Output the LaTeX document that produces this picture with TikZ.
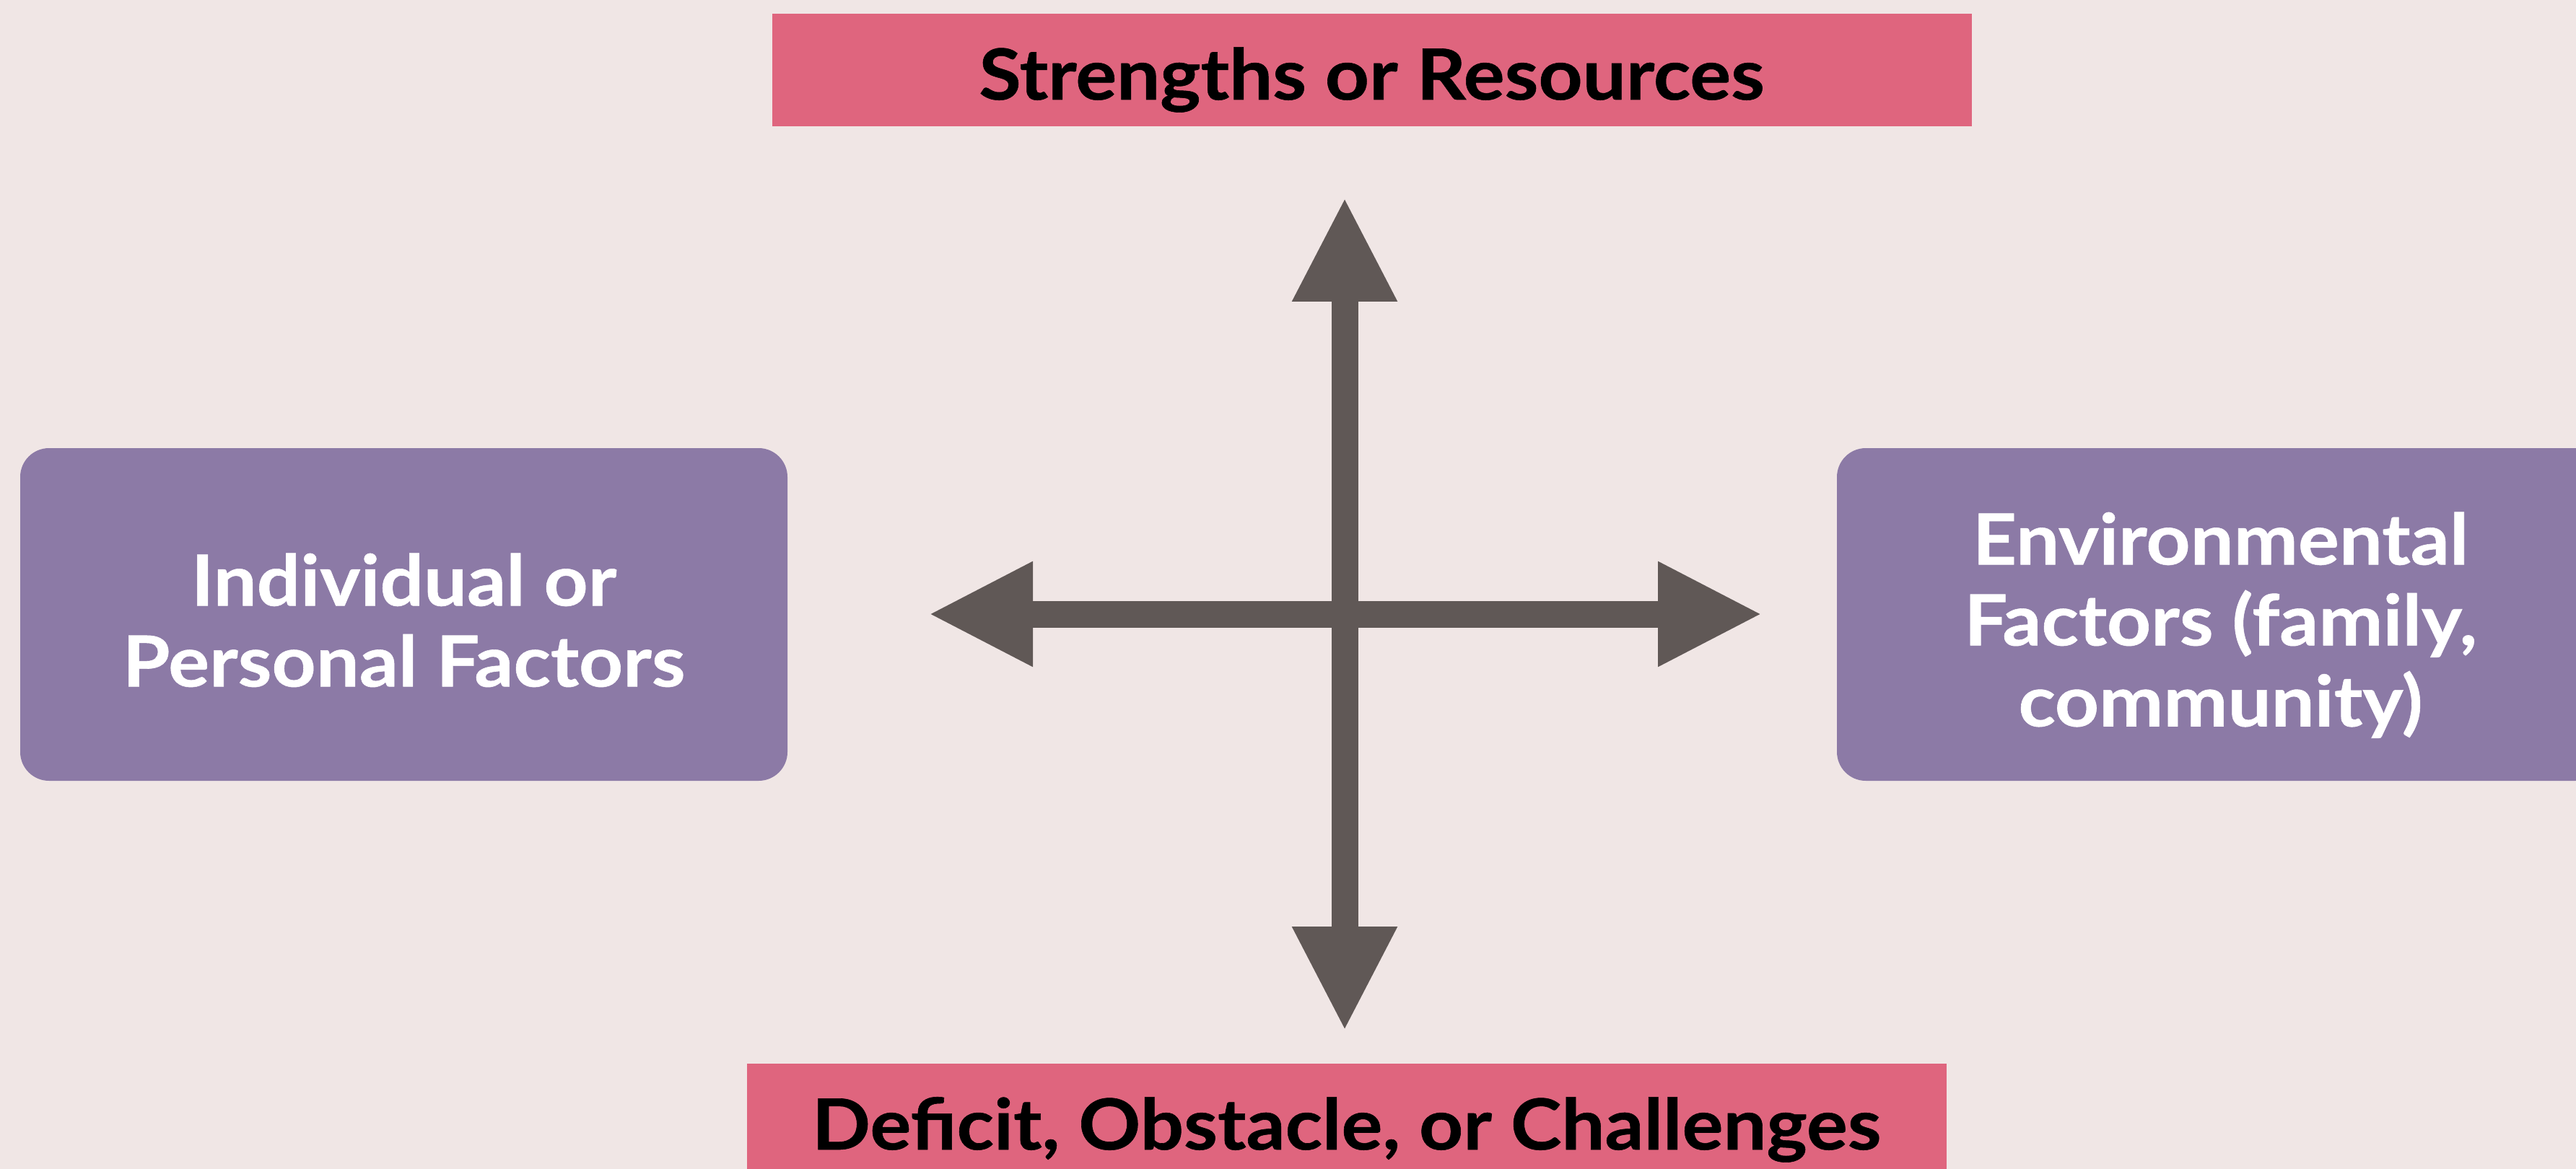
\documentclass[tikz,border=0pt]{standalone}
\usepackage{fontspec}
\setmainfont{Lato}[BoldFeatures={FakeStretch=1.09, FakeBold=0.6}]
\usetikzlibrary{arrows.meta}
\usetikzlibrary{positioning}
\definecolor{rosebar}{HTML}{DF657E}
\definecolor{lilac}{HTML}{8C7AA6}
\definecolor{axisgrey}{HTML}{605856}
\definecolor{paper}{HTML}{F0E6E5}
\tikzset{>={Triangle[length=1.45cm, width=1.35cm]}, font=\fontsize{27.8}{31.9}\selectfont\bfseries}
\tikzstyle{band} = [fill=rosebar, rectangle, minimum width=16.62cm, minimum height=1.56cm, text height=0.82cm, text depth=0cm, inner sep=0pt, text centered]
\tikzstyle{factor} = [fill=lilac, rectangle, rounded corners=0.4cm, minimum width=10.63cm, minimum height=4.61cm, inner sep=0pt]
\tikzstyle{factortext} = [text=white, align=center, inner sep=0pt, anchor=north]
\tikzstyle{axis} = [draw=axisgrey, line width=0.37cm, <->]

\begin{document}
\begin{tikzpicture}
		\useasboundingbox (0,0) rectangle (35.69,-16.20);
		\clip (0,0) rectangle (35.69,-16.20);
		\fill [paper] (0,0) rectangle (35.69,-16.20);

		\coordinate (mid) at (18.63,-8.51);
		\coordinate [above=5.78cm of mid] (up_end);
		\coordinate [below=5.78cm of mid] (down_end);
		\coordinate [left=5.77cm of mid] (left_end);
		\coordinate [right=5.79cm of mid] (right_end);

		\node [band] (strengths) at (19.005,-0.97) {Strengths or Resources};
		\node [band] (deficit) at (18.655,-15.52) {Deficit, Obstacle, or Challenges};

		\node [factor] (personal) at (5.595,-8.515) {};
		\node [factor] (environment) at (30.765,-8.515) {};
		\node [factortext] (personal_txt) at (personal.center |- 0,-7.66) {Individual or\\Personal Factors};
		\node [factortext] (environment_txt) at (environment.center |- 0,-7.09) {Environmental\\Factors (family,\\community)};

		\draw [axis] (down_end) -- (up_end);
		\draw [axis] (left_end) -- (right_end);
	\end{tikzpicture}
\end{document}
